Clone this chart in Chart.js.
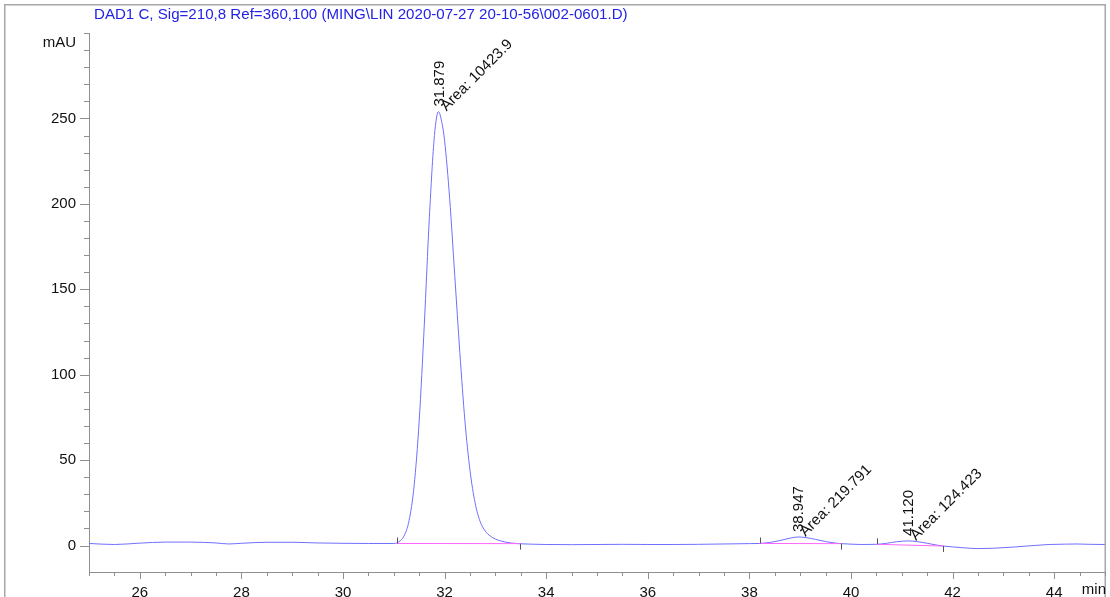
<!DOCTYPE html>
<html>
<head>
<meta charset="utf-8">
<script src="https://cdn.jsdelivr.net/npm/chart.js@4.4.1/dist/chart.umd.min.js"></script>
<style>
html,body{margin:0;padding:0;background:#fff;}
#wrap{position:absolute;left:0;top:0;width:1110px;height:597px;}
</style>
</head>
<body>
<div id="wrap"><canvas id="c" width="1110" height="597"></canvas></div>
<script>
// ---- data ----
const titleText = "DAD1 C, Sig=210,8 Ref=360,100 (MING\\LIN 2020-07-27 20-10-56\\002-0601.D)";
const times = [25, 25.5, 26, 26.5, 27, 27.5, 27.75, 28, 28.5, 29, 29.5, 30, 30.5, 31.0, 31.1, 31.2, 31.3, 31.4, 31.5, 31.6, 31.7, 31.8, 31.879, 31.95, 32.0, 32.1, 32.2, 32.3, 32.4, 32.5, 32.6, 32.7, 32.8, 32.9, 33.0, 33.1, 33.2, 33.3, 33.4, 33.5, 33.7, 34, 34.5, 35, 35.5, 36, 36.5, 37, 37.5, 38, 38.2, 38.4, 38.6, 38.8, 38.947, 39.1, 39.3, 39.5, 39.7, 39.8, 40.0, 40.2, 40.5, 40.7, 40.9, 41.12, 41.3, 41.5, 41.7, 41.82, 42.0, 42.2, 42.5, 42.8, 43.2, 43.6, 43.9, 44.2, 44.45, 44.7, 45];
const signal = [1.2, 0.6, 1.4, 2.0, 2.0, 1.5, 0.9, 1.3, 1.9, 1.9, 1.5, 1.3, 1.2, 1.2, 2.2, 5.5, 14.5, 35, 73, 129, 192, 240, 254, 247, 237, 203, 158, 113, 73, 44, 25, 14, 8.5, 5.5, 3.8, 2.7, 2.0, 1.5, 1.2, 1.0, 0.8, 0.6, 0.5, 0.6, 0.7, 0.6, 0.6, 0.7, 0.9, 1.1, 1.2, 1.8, 2.9, 4.3, 5.0, 4.7, 3.6, 2.3, 1.4, 1.1, 0.8, 0.6, 0.7, 1.3, 2.2, 2.7, 2.3, 1.3, 0.2, -0.3, -0.8, -1.3, -1.8, -1.6, -0.9, 0.0, 0.6, 0.8, 0.9, 0.7, 0.6];

const peakRT = [31.879, 38.947, 41.120];
const peakTop = [254, 5.0, 2.7];
const peakAreaLabels = ["Area: 10423.9", "Area: 219.791", "Area: 124.423"];
const peakStart = [31.06, 38.21, 40.51];
const peakEnd = [33.49, 39.80, 41.82];
const baseStartVal = [1.2, 1.2, 0.7];
const baseEndVal = [1.1, 1.1, -0.3];

const xMin = 25, xMax = 45, xStep = 0.5;
const yMin = -15.5, yMax = 300, yStep = 10;
const xLabelTicks = [26, 28, 30, 32, 34, 36, 38, 40, 42, 44];
const yLabelTicks = [0, 50, 100, 150, 200, 250];
const xUnit = "min", yUnit = "mAU";

// ---- build datasets ----
const curve = times.map((t, i) => ({x: t, y: signal[i]}));
const baselineSets = peakStart.map((s, i) => ({
  data: [{x: s, y: baseStartVal[i]}, {x: peakEnd[i], y: baseEndVal[i]}],
  borderColor: '#ff66ff', borderWidth: 1, pointRadius: 0, order: 0, tension: 0
}));

const FONT = "'Liberation Sans', Arial, sans-serif";
const axisColor = '#8f8f8f';

const decor = {
  id: 'decor',
  afterDatasetsDraw(chart) {
    const ctx = chart.ctx, xs = chart.scales.x, ys = chart.scales.y;
    const ca = chart.chartArea;
    ctx.save();
    // frame
    ctx.strokeStyle = '#a8a8a8'; ctx.lineWidth = 1.5;
    ctx.beginPath();
    ctx.moveTo(4.75, 597); ctx.lineTo(4.75, 4.75); ctx.lineTo(1105.25, 4.75); ctx.lineTo(1105.25, 597);
    ctx.stroke();
    // axis tick marks
    ctx.strokeStyle = axisColor; ctx.lineWidth = 1;
    ctx.beginPath();
    xs.ticks.forEach(tk => {
      const v = tk.value;
      if (Math.abs(v / xStep - Math.round(v / xStep)) > 1e-6) return;
      const px = Math.round(xs.getPixelForValue(v)) + 0.5;
      const major = Math.abs(v - Math.round(v)) < 1e-6 && Math.round(v) % 2 === 0;
      ctx.moveTo(px, ca.bottom); ctx.lineTo(px, ca.bottom + (major ? 7 : 4));
    });
    ys.ticks.forEach(tk => {
      const v = tk.value;
      if (Math.abs(v / yStep - Math.round(v / yStep)) > 1e-6) return;
      const py = Math.round(ys.getPixelForValue(v)) + 0.5;
      const major = yLabelTicks.includes(v);
      ctx.moveTo(ca.left, py); ctx.lineTo(ca.left - (major ? 9 : 5), py);
    });
    ctx.stroke();
    // integration markers
    ctx.strokeStyle = '#555'; ctx.lineWidth = 1;
    ctx.beginPath();
    peakStart.forEach((s, i) => {
      const x1 = Math.round(xs.getPixelForValue(s)) + 0.5, y1 = ys.getPixelForValue(baseStartVal[i]);
      ctx.moveTo(x1, y1); ctx.lineTo(x1, y1 - 6);
      const x2 = Math.round(xs.getPixelForValue(peakEnd[i])) + 0.5, y2 = ys.getPixelForValue(baseEndVal[i]);
      ctx.moveTo(x2, y2); ctx.lineTo(x2, y2 + 6);
    });
    ctx.stroke();
    // peak labels
    ctx.fillStyle = '#111';
    ctx.font = '15px ' + FONT;
    peakRT.forEach((rt, i) => {
      const px = xs.getPixelForValue(rt), py = ys.getPixelForValue(peakTop[i]);
      ctx.save();
      ctx.translate(px + 1, py - 5);
      ctx.rotate(-Math.PI / 2);
      ctx.textAlign = 'left'; ctx.textBaseline = 'middle';
      ctx.fillText(rt.toFixed(3), 0, 0);
      ctx.restore();
      ctx.save();
      ctx.translate(px + 8, py);
      ctx.rotate(-Math.PI / 4);
      ctx.textAlign = 'left'; ctx.textBaseline = 'alphabetic';
      ctx.fillText(peakAreaLabels[i], 0, 0);
      ctx.restore();
    });
    // unit labels
    ctx.font = '15px ' + FONT;
    ctx.fillStyle = '#111';
    ctx.textAlign = 'right'; ctx.textBaseline = 'middle';
    ctx.fillText(yUnit, ca.left - 13, ca.top + 10);
    ctx.fillText(xUnit, ca.right + 1, ca.bottom + 18);
    // title
    ctx.fillStyle = '#2323e6';
    ctx.font = '15.1px ' + FONT;
    ctx.textAlign = 'left'; ctx.textBaseline = 'middle';
    ctx.fillText(titleText, 94, 15);
    ctx.restore();
  }
};

new Chart(document.getElementById('c'), {
  type: 'line',
  data: {
    datasets: [
      {data: curve, borderColor: '#6f6fff', borderWidth: 1, pointRadius: 0, cubicInterpolationMode: 'monotone', order: 1},
      ...baselineSets
    ]
  },
  options: {
    responsive: false, animation: false, devicePixelRatio: 1,
    layout: {padding: {top: 33, right: 5, left: 0, bottom: 0}},
    plugins: {legend: {display: false}, tooltip: {enabled: false}, title: {display: false}},
    scales: {
      x: {
        type: 'linear', min: xMin, max: xMax,
        afterFit: s => { s.height = 25; },
        border: {display: true, color: axisColor, width: 1},
        grid: {display: true, drawOnChartArea: false, drawTicks: true, tickLength: 7, color: 'transparent', tickColor: 'transparent'},
        ticks: {stepSize: xStep, autoSkip: false, maxRotation: 0, minRotation: 0, padding: 5, color: '#111',
          font: {family: FONT, size: 15},
          callback: v => xLabelTicks.includes(v) ? String(v) : ''}
      },
      y: {
        type: 'linear', min: yMin, max: yMax,
        afterFit: s => { s.width = 89; },
        border: {display: true, color: axisColor, width: 1},
        grid: {display: true, drawOnChartArea: false, drawTicks: true, tickLength: 9, color: 'transparent', tickColor: 'transparent'},
        ticks: {stepSize: yStep, autoSkip: false, padding: 4, color: '#111',
          font: {family: FONT, size: 15},
          callback: v => yLabelTicks.includes(v) ? String(v) : ''}
      }
    }
  },
  plugins: [decor]
});
</script>
</body>
</html>
